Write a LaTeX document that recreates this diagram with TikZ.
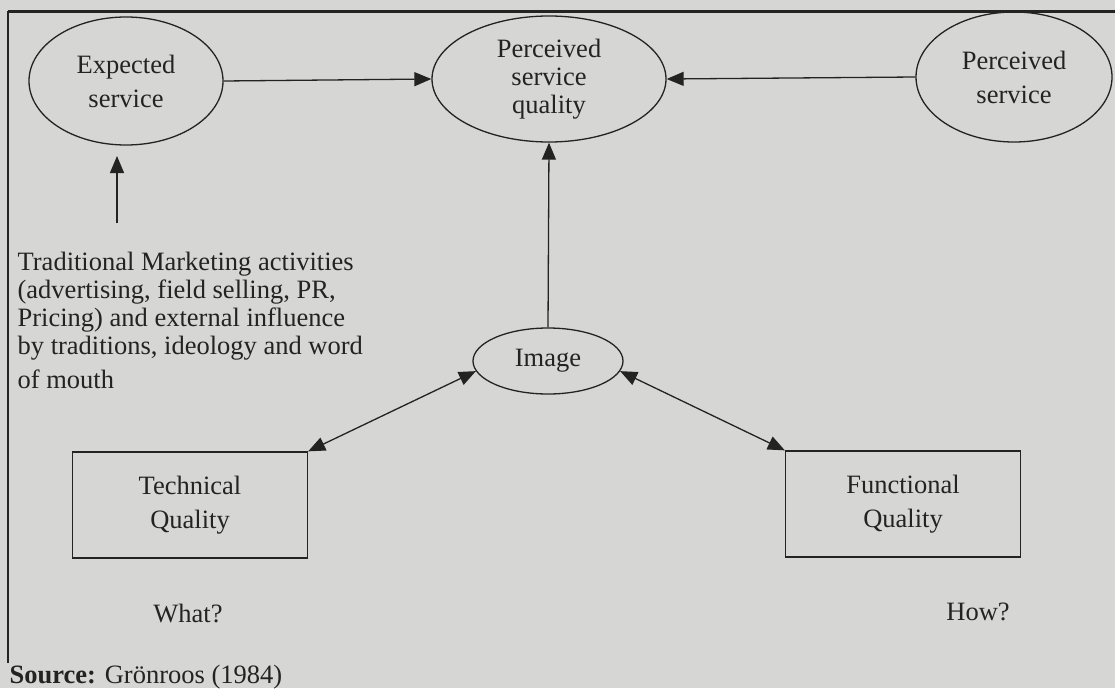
\documentclass[tikz,border=0pt]{standalone}
\usepackage{fontspec}
\setmainfont{Liberation Serif}
\usepackage{tikz}
\usetikzlibrary{shapes.geometric, arrows.meta}
\definecolor{paper}{RGB}{214,214,212}
\definecolor{ink}{RGB}{35,35,35}

\begin{document}
\begin{tikzpicture}[x=1pt, y=-1pt, line width=1.3pt, draw=ink, text=ink,
    font=\fontsize{26.5}{34}\selectfont,
    oval/.style={ellipse, draw, inner sep=0pt, align=center},
    qbox/.style={rectangle, draw, inner sep=0pt, align=center, minimum width=235pt, minimum height=106pt},
    tip/.style={-{Triangle[length=17pt, width=14pt]}},
    both/.style={{Triangle[length=17pt, width=14pt]}-{Triangle[length=17pt, width=14pt]}}]
  \fill[paper] (0,0) rectangle (1115,688);
  \useasboundingbox (0,0) rectangle (1115,688);
  % frame
  \draw[line width=3pt] (8,11) -- (1115,11);
  \draw[line width=1.5pt] (8,11) -- (8,663);
  % ovals
  \node[oval, minimum width=194pt, minimum height=128pt] (exp) at (126,81) {Expected\\service};
  \node[oval, minimum width=234pt, minimum height=126pt, font=\fontsize{26.5}{28}\selectfont] (psq) at (549,79) {Perceived\\service\\quality};
  \node[oval, minimum width=196pt, minimum height=130pt] (ps) at (1014,77) {Perceived\\service};
  \node[oval, minimum width=150pt, minimum height=66pt] (img) at (548,361) {Image};
  % boxes
  \node[qbox] (tech) at (190,505) {Technical\\Quality};
  \node[qbox] (func) at (903,504) {Functional\\Quality};
  \node (what) at (188,613) {What?};
  \node (how) at (978,612) {How?};
  \node[anchor=north west, align=left, inner sep=0pt, font=\fontsize{26.5}{28}\selectfont] (mkt) at (17,251)
    {Traditional Marketing activities\\(advertising, field selling, PR,\\Pricing) and external influence\\by traditions, ideology and word\\[6pt]of mouth};
  \node[anchor=west, inner sep=0pt] (src) at (9,677) {\textbf{Source:} Grönroos (1984)};
  % connectors
  \coordinate (mktop) at (117,223);
  \coordinate (mktip) at (117,156);
  \draw[tip] (mktop) -- (mktip);
  \draw[tip] (exp.east) -- (psq.west);
  \draw[tip] (ps.west) -- (psq.east);
  \draw[tip] (img.north) -- (psq.south);
  \draw[both] (img.188) -- (tech.north east);
  \draw[both] (img.352) -- (func.north west);
\end{tikzpicture}
\end{document}
